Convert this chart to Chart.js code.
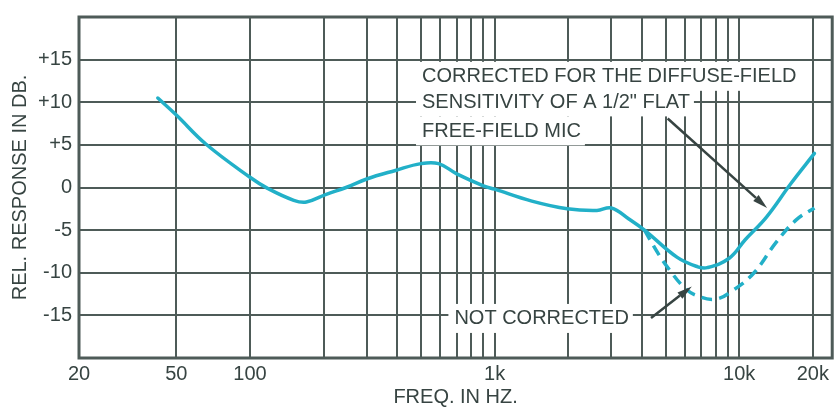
<!DOCTYPE html>
<html>
<head>
<meta charset="utf-8">
<script src="https://cdn.jsdelivr.net/npm/chart.js@4.4.0/dist/chart.umd.min.js"></script>
<style>
html, body { margin: 0; padding: 0; background: #fff; }
#wrap { width: 835px; height: 407px; }
</style>
</head>
<body>
<div id="wrap"><canvas id="response-chart"></canvas></div>
<script>
// response curves (Hz / dB)
var freqCorrected = [42, 50, 66, 100, 118, 151, 170, 205, 247, 300, 393, 500, 590, 700, 900, 1000, 1420, 1980, 2620, 3000, 3540, 4100, 5580, 6770, 7400, 9100, 10600, 12900, 16300, 20300];
var dbCorrected = [10.5, 8.5, 5.1, 1.2, -0.1, -1.5, -1.7, -0.8, 0, 1.0, 2.0, 2.8, 2.8, 1.6, 0.2, -0.2, -1.6, -2.5, -2.7, -2.4, -3.7, -5.0, -8.2, -9.3, -9.4, -8.3, -6.1, -3.5, 0.5, 4.0];

var freqUncorrected = [4100, 4700, 5200, 5900, 6600, 8000, 9500, 11500, 14100, 17100, 20300];
var dbUncorrected = [-5.0, -7.9, -9.7, -11.6, -12.6, -13.1, -12.0, -10.0, -6.5, -3.8, -2.4];

// graph paper lines and the few labelled ones
var gridFreqs = [20, 50, 100, 200, 300, 400, 500, 600, 700, 800, 900, 1000, 2000, 3000, 4000, 5000, 6000, 7000, 8000, 9000, 10000, 20000];
var labelFreqs = [20, 50, 100, 1000, 10000, 20000];
var labelText = ['20', '50', '100', '1k', '10k', '20k'];
var dbTicks = [-15, -10, -5, 0, 5, 10, 15];

function toPoints(xs, ys) {
    return xs.map(function(x, i) { return { x: x, y: ys[i] }; });
}

var ink = '#374442';
var gridInk = '#4e5b58';
var curveInk = '#22b0c8';
var font20 = { family: 'Liberation Sans', size: 20, lineHeight: 1 };

var notePlugin = {
    id: 'notes',
    afterDraw: function(chart) {
        var ctx = chart.ctx;
        var xs = chart.scales.x, ys = chart.scales.y;
        var a = chart.chartArea;
        ctx.save();
        ctx.font = '20px "Liberation Sans"';
        ctx.textBaseline = 'middle';

        function label(text, f, db) {
            var x = xs.getPixelForValue(f), y = ys.getPixelForValue(db);
            var w = ctx.measureText(text).width;
            ctx.fillStyle = '#fff';
            ctx.fillRect(x - 6, y - 14, w + 10, 29);
            ctx.fillStyle = ink;
            ctx.fillText(text, x, y + 1);
        }

        function arrow(f1, d1, f2, d2) {
            var x1 = xs.getPixelForValue(f1), y1 = ys.getPixelForValue(d1);
            var x2 = xs.getPixelForValue(f2), y2 = ys.getPixelForValue(d2);
            var ang = Math.atan2(y2 - y1, x2 - x1);
            var len = 15, half = 4;
            ctx.strokeStyle = ink;
            ctx.lineWidth = 2.5;
            ctx.beginPath();
            ctx.moveTo(x1, y1);
            ctx.lineTo(x2 - Math.cos(ang) * len, y2 - Math.sin(ang) * len);
            ctx.stroke();
            ctx.fillStyle = ink;
            ctx.beginPath();
            ctx.moveTo(x2, y2);
            ctx.lineTo(x2 - Math.cos(ang) * len - Math.sin(ang) * half, y2 - Math.sin(ang) * len + Math.cos(ang) * half);
            ctx.lineTo(x2 - Math.cos(ang) * len + Math.sin(ang) * half, y2 - Math.sin(ang) * len - Math.cos(ang) * half);
            ctx.closePath();
            ctx.fill();
        }

        label('CORRECTED FOR THE DIFFUSE-FIELD', 505, 13.1);
        label('SENSITIVITY OF A 1/2" FLAT', 505, 10.1);
        label('FREE-FIELD MIC', 505, 6.7);
        label('NOT CORRECTED', 685, -15.3);

        arrow(5100, 8.1, 13000, -2.4);
        arrow(4360, -15.3, 6400, -11.6);

        // frame round the plot
        ctx.strokeStyle = gridInk;
        ctx.lineWidth = 3;
        ctx.strokeRect(a.left, a.top, a.right - a.left, a.bottom - a.top);
        ctx.restore();
    }
};

new Chart(document.getElementById('response-chart'), {
    type: 'scatter',
    data: {
        datasets: [
            {
                label: 'Corrected',
                data: toPoints(freqCorrected, dbCorrected),
                showLine: true,
                borderColor: curveInk,
                borderWidth: 3.5,
                borderCapStyle: 'round',
                pointRadius: 0,
                tension: 0.4
            },
            {
                label: 'Not corrected',
                data: toPoints(freqUncorrected, dbUncorrected),
                showLine: true,
                borderColor: curveInk,
                borderWidth: 3.5,
                borderDash: [11, 7],
                pointRadius: 0,
                tension: 0.4
            }
        ]
    },
    options: {
        responsive: true,
        maintainAspectRatio: false,
        animation: false,
        layout: { padding: { top: 12, right: 1, left: 0, bottom: 0 } },
        plugins: {
            legend: { display: false },
            tooltip: { enabled: false }
        },
        scales: {
            x: {
                type: 'logarithmic',
                min: 20,
                max: 24000,
                afterBuildTicks: function(s) {
                    s.ticks = gridFreqs.map(function(v) { return { value: v }; });
                },
                afterFit: function(s) { s.height = 49; },
                grid: { color: gridInk, lineWidth: 2, drawTicks: false },
                border: { display: false },
                ticks: {
                    autoSkip: false,
                    maxRotation: 0,
                    padding: 6,
                    color: ink,
                    font: font20,
                    callback: function(v) {
                        var i = labelFreqs.indexOf(v);
                        return i < 0 ? '' : labelText[i];
                    }
                },
                title: {
                    display: true,
                    text: 'FREQ. IN HZ.',
                    color: ink,
                    font: font20,
                    padding: { top: 0, bottom: 0 }
                }
            },
            y: {
                min: -20,
                max: 20,
                afterBuildTicks: function(s) {
                    s.ticks = [-20].concat(dbTicks, [20]).map(function(v) { return { value: v }; });
                },
                afterFit: function(s) { s.width = 79; },
                grid: { color: gridInk, lineWidth: 2, drawTicks: false },
                border: { display: false },
                ticks: {
                    padding: 7,
                    color: ink,
                    font: font20,
                    callback: function(v) {
                        if (dbTicks.indexOf(v) < 0) return '';
                        return v > 0 ? '+' + v : String(v);
                    }
                },
                title: {
                    display: true,
                    text: 'REL. RESPONSE IN DB.',
                    color: ink,
                    font: font20,
                    padding: { top: 10, bottom: 0 }
                }
            }
        }
    },
    plugins: [notePlugin]
});
</script>
</body>
</html>
